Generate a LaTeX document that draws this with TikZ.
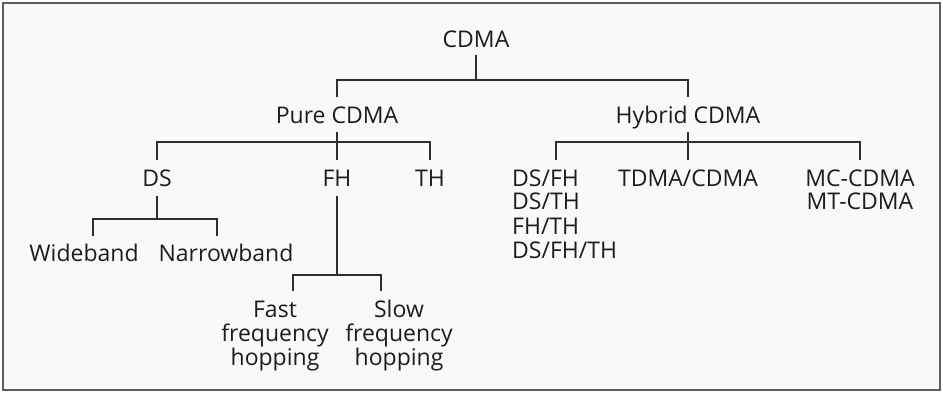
\documentclass[tikz,border=0pt]{standalone}
\usepackage{fontspec}
\setmainfont{Open Sans}
\definecolor{bgc}{HTML}{F8F9FB}
\definecolor{framec}{HTML}{5E5E5E}
\definecolor{linec}{HTML}{2E2E2E}
\definecolor{txtc}{HTML}{1C1C1C}
\begin{document}
\begin{tikzpicture}[x=1pt,y=-1pt,
  lbl/.style={inner sep=0pt, text=txtc, font=\fontsize{23}{24}\selectfont, anchor=base},
  conn/.style={draw=linec, line width=1.4pt}]
\useasboundingbox (0,0) rectangle (943,393);
\fill[white] (0,0) rectangle (943,393);
\draw[framec, fill=bgc, line width=1.6pt] (3,3) rectangle (940,390);
% nodes (multi-line nodes: base = baseline of last line)
\node[lbl] (cdma) at (476,48) {CDMA};
\node[lbl] (pure) at (337,123.5) {Pure CDMA};
\node[lbl] (hybrid) at (688,123.5) {Hybrid CDMA};
\node[lbl] (ds) at (157,186) {DS};
\node[lbl] (fh) at (337,186) {FH};
\node[lbl] (th) at (430,186) {TH};
\node[lbl] (wide) at (84,261) {Wideband};
\node[lbl] (narrow) at (226,261) {Narrowband};
\node[lbl, align=center] (fast) at (275,365.5) {Fast\\frequency\\hopping};
\node[lbl, align=center] (slow) at (399,365.5) {Slow\\frequency\\hopping};
\node[lbl, align=left, anchor=base west] (mix) at (512,258) {DS/FH\\DS/TH\\FH/TH\\DS/FH/TH};
\node[lbl] (tdma) at (688,186) {TDMA/CDMA};
\node[lbl, align=center] (mc) at (860,210) {MC-CDMA\\MT-CDMA};
% connectors
\draw[conn] ([yshift=-7pt]cdma.base) -- ++(0,25);
\draw[conn] ([yshift=26.5pt]pure.base) -- ++(0,-17) -| ([yshift=26.5pt]hybrid.base);
\draw[conn] ([yshift=-8.5pt]pure.base) -- ([yshift=26pt]fh.base);
\draw[conn] ([yshift=26pt]ds.base) -- ++(0,-18) -| ([yshift=26pt]th.base);
\draw[conn] ([yshift=-9pt]hybrid.base) -- ([yshift=26pt]tdma.base);
\draw[conn] ([xshift=44pt,yshift=98pt]mix.base west) -- ++(0,-18) -| ([yshift=50pt]mc.base);
\draw[conn] ([yshift=-10pt]ds.base) -- ++(0,23) coordinate (dsbus);
\draw[conn] ([xshift=9pt,yshift=25pt]wide.base) -- ++(0,-17) -| ([xshift=-9pt,yshift=25pt]narrow.base);
\draw[conn] ([yshift=-10pt]fh.base) -- ++(0,79);
\draw[conn] ([xshift=18pt,yshift=74.5pt]fast.base) -- ++(0,-16) -| ([xshift=-18pt,yshift=74.5pt]slow.base);
\end{tikzpicture}
\end{document}
